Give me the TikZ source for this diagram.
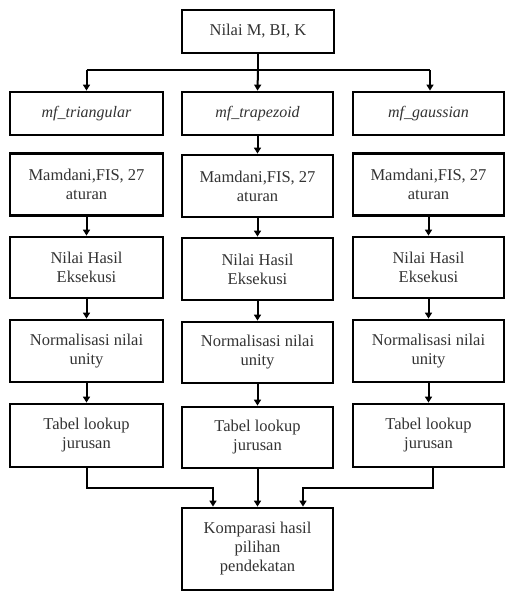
\documentclass[tikz,border=0pt]{standalone}
\usepackage{fontspec}
\setmainfont{Liberation Serif}
\usetikzlibrary{arrows.meta}
\begin{document}
\begin{tikzpicture}[x=1pt,y=-1pt,
  box/.style={draw=black,line width=2.8pt,fill=white,inner sep=0pt,align=center,
    font=\fontsize{16.5}{19}\selectfont,text=black!80},
  mf/.style={font=\fontsize{16}{19}\selectfont\itshape},
  conn/.style={draw=black,line width=2pt,-{Triangle[width=7pt,length=6pt]}},
  line/.style={draw=black,line width=2pt}]
\useasboundingbox (0,0) rectangle (505,592);
% top
\node[box,minimum width=152pt,minimum height=43pt] (top) at (258,31.5) {Nilai M, BI, K};
% row 2
\node[box,mf,minimum width=153pt,minimum height=43pt] (mfa) at (86.5,113.5) {mf\_triangular};
\node[box,mf,minimum width=151pt,minimum height=43pt] (mfb) at (257.5,113.5) {mf\_trapezoid};
\node[box,mf,minimum width=151pt,minimum height=43pt] (mfc) at (428.5,113.5) {mf\_gaussian};
% row 3
\node[box,minimum width=153pt,minimum height=62pt] (fa) at (86.5,184.5) {Mamdani,FIS, 27\\aturan};
\node[box,minimum width=151pt,minimum height=62pt] (fb) at (257.5,186) {Mamdani,FIS, 27\\aturan};
\node[box,minimum width=151pt,minimum height=62pt] (fc) at (428.5,184.5) {Mamdani,FIS, 27\\aturan};
% row 4
\node[box,minimum width=153pt,minimum height=61pt] (ea) at (86.5,267.5) {Nilai Hasil\\Eksekusi};
\node[box,minimum width=151pt,minimum height=62pt] (eb) at (257.5,269) {Nilai Hasil\\Eksekusi};
\node[box,minimum width=151pt,minimum height=61pt] (ec) at (428.5,267.5) {Nilai Hasil\\Eksekusi};
% row 5
\node[box,minimum width=153pt,minimum height=62pt] (na) at (86.5,351) {Normalisasi nilai\\unity};
\node[box,minimum width=151pt,minimum height=61pt] (nb) at (257.5,352.5) {Normalisasi nilai\\unity};
\node[box,minimum width=151pt,minimum height=62pt] (nc) at (428.5,351) {Normalisasi nilai\\unity};
% row 6
\node[box,minimum width=153pt,minimum height=63pt] (ta) at (86.5,435.5) {Tabel lookup\\jurusan};
\node[box,minimum width=151pt,minimum height=61pt] (tb) at (257.5,437.5) {Tabel lookup\\jurusan};
\node[box,minimum width=151pt,minimum height=63pt] (tc) at (428.5,435.5) {Tabel lookup\\jurusan};
% bottom
\node[box,minimum width=151pt,minimum height=82pt] (kb) at (257.5,549) {Komparasi hasil\\pilihan\\pendekatan};
% connectors top
\coordinate (hl) at (86.5,70);
\coordinate (hr) at (430,70);
\coordinate (hm) at (258,70);
\draw[line] (top.south) -- (hm);
\draw[line] (hl) -- (hr);
\draw[conn] (hl) -- (mfa.north);
\draw[conn] (hm) -- (mfb.north);
\draw[conn] (hr) -- (hr |- mfc.north);
\draw[conn] (mfb) -- (fb);
\draw[conn] (fa) -- (ea);
\draw[conn] (fb) -- (eb);
\draw[conn] (fc) -- (ec);
\draw[conn] (ea) -- (na);
\draw[conn] (eb) -- (nb);
\draw[conn] (ec) -- (nc);
\draw[conn] (na) -- (ta);
\draw[conn] (nb) -- (tb);
\draw[conn] (nc) -- (tc);
% bottom connectors
\coordinate (bl) at (213,488);
\coordinate (br) at (303,488);
\draw[conn] (ta.south) |- (bl) -- (bl |- kb.north);
\draw[conn] (tb) -- (kb);
\draw[conn] (433,467) |- (br) -- (br |- kb.north);
\end{tikzpicture}
\end{document}
